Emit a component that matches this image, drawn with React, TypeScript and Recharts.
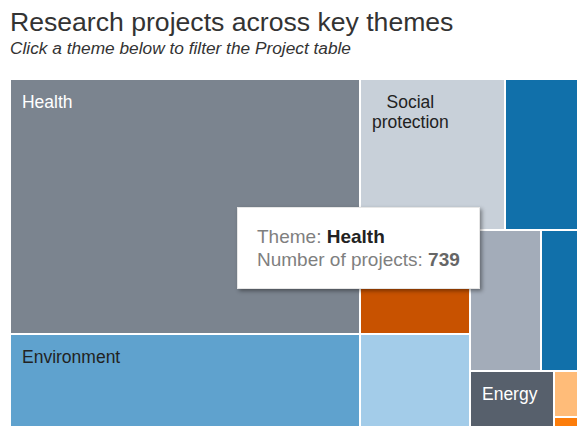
import * as React from "react"
import { Treemap } from "recharts"

// themes in the order they are laid out in the treemap
const THEMES = [
    "Health",
    "Environment",
    "Social protection",
    "Urban development",
    "Governance",
    "Humanitarian",
    "Education",
    "Agriculture",
    "Energy",
    "Migration",
    "Conflict",
]
const PROJECTS = [739, 362, 181, 138, 95, 114, 83, 86, 61, 23, 21]

const HOVERED_THEME = "Health"

// Tableau "color blind" palette, handed out in alphabetical order of the themes
const PALETTE = ["#1170aa", "#fc7d0b", "#a3acb9", "#57606c", "#5fa2ce", "#c85200", "#7b848f", "#a3cce9", "#ffbc79", "#c8d0d9"]
const SORTED = [...THEMES].sort()
const colorOf = (name: string) => PALETTE[SORTED.indexOf(name) % PALETTE.length]

const data = THEMES.map((name, i) => ({ name, value: PROJECTS[i] }))

const FONT = "'Liberation Sans', Arial, sans-serif"
const LABEL_SIZE = 17.5
const LINE_H = 20

let ctx: CanvasRenderingContext2D | null = null
const measure = (text: string) => {
    if (!ctx) {
        ctx = document.createElement("canvas").getContext("2d")
    }
    if (!ctx) return text.length * LABEL_SIZE * 0.55
    ctx.font = `${LABEL_SIZE}px ${FONT}`
    return ctx.measureText(text).width
}

// wrap the label into lines, or give up if it does not fit the cell
const fitLabel = (name: string, width: number, height: number) => {
    const maxW = width - 24
    const words = name.split(" ")
    if (words.some((w) => measure(w) > maxW)) return null
    const lines: string[] = []
    let cur = ""
    words.forEach((w) => {
        const next = cur ? cur + " " + w : w
        if (measure(next) > maxW && cur) {
            lines.push(cur)
            cur = w
        } else {
            cur = next
        }
    })
    if (cur) lines.push(cur)
    if (lines.length * LINE_H + 14 > height) return null
    return lines
}

const luminance = (hex: string) => {
    const c = [1, 3, 5].map((i) => parseInt(hex.slice(i, i + 2), 16) / 255)
    const l = c.map((v) => (v <= 0.03928 ? v / 12.92 : Math.pow((v + 0.055) / 1.055, 2.4)))
    return 0.2126 * l[0] + 0.7152 * l[1] + 0.0722 * l[2]
}

const renderCell = (props: any) => {
    const { x, y, width, height, depth, name } = props
    if (depth !== 1) return null
    const fill = colorOf(name)
    const lines = fitLabel(name, width, height)
    const textColor = luminance(fill) < 0.28 ? "#ffffff" : "#222222"
    let blockW = 0
    if (lines) lines.forEach((l) => (blockW = Math.max(blockW, measure(l))))
    return (
        <g>
            <rect x={x} y={y} width={width} height={height} fill={fill} stroke="#ffffff" strokeWidth={2} />
            {lines &&
                lines.map((l, i) => (
                    <text
                        key={i}
                        x={x + 12 + blockW / 2}
                        y={y + 28.5 + i * LINE_H}
                        textAnchor="middle"
                        fill={textColor}
                        fontSize={LABEL_SIZE}
                        fontFamily={FONT}
                    >
                        {l}
                    </text>
                ))}
        </g>
    )
}

export default function App() {
    const hovered = PROJECTS[THEMES.indexOf(HOVERED_THEME)]
    return (
        <div
            style={{
                position: "fixed",
                left: 0,
                top: 0,
                width: 577,
                height: 426,
                overflow: "hidden",
                background: "#ffffff",
                fontFamily: FONT,
            }}
        >
            <svg width={577} height={79} style={{ position: "absolute", left: 0, top: 0 }}>
                <text x={10} y={31} fontSize={26.6} fill="#333333" fontFamily={FONT}>
                    Research projects across key themes
                </text>
                <text x={10} y={54} fontSize={17.3} fontStyle="italic" fill="#333333" fontFamily={FONT}>
                    Click a theme below to filter the Project table
                </text>
            </svg>
            <div style={{ position: "absolute", left: 10, top: 79 }}>
                <Treemap
                    width={605}
                    height={380}
                    data={data}
                    dataKey="value"
                    nameKey="name"
                    aspectRatio={1.38}
                    isAnimationActive={false}
                    content={renderCell}
                />
            </div>
            <div
                style={{
                    position: "absolute",
                    left: 237,
                    top: 207,
                    width: 243,
                    height: 82,
                    boxSizing: "border-box",
                    background: "#ffffff",
                    border: "1px solid #e6e6e6",
                    boxShadow: "2px 2px 4px rgba(0,0,0,0.4)",
                    padding: "17px 0 0 19px",
                    fontSize: 19,
                    lineHeight: "23px",
                    color: "#7f7f7f",
                }}
            >
                <div>
                    Theme: <b style={{ color: "#222222" }}>{HOVERED_THEME}</b>
                </div>
                <div>
                    Number of projects: <b style={{ color: "#666666" }}>{hovered}</b>
                </div>
            </div>
        </div>
    )
}
